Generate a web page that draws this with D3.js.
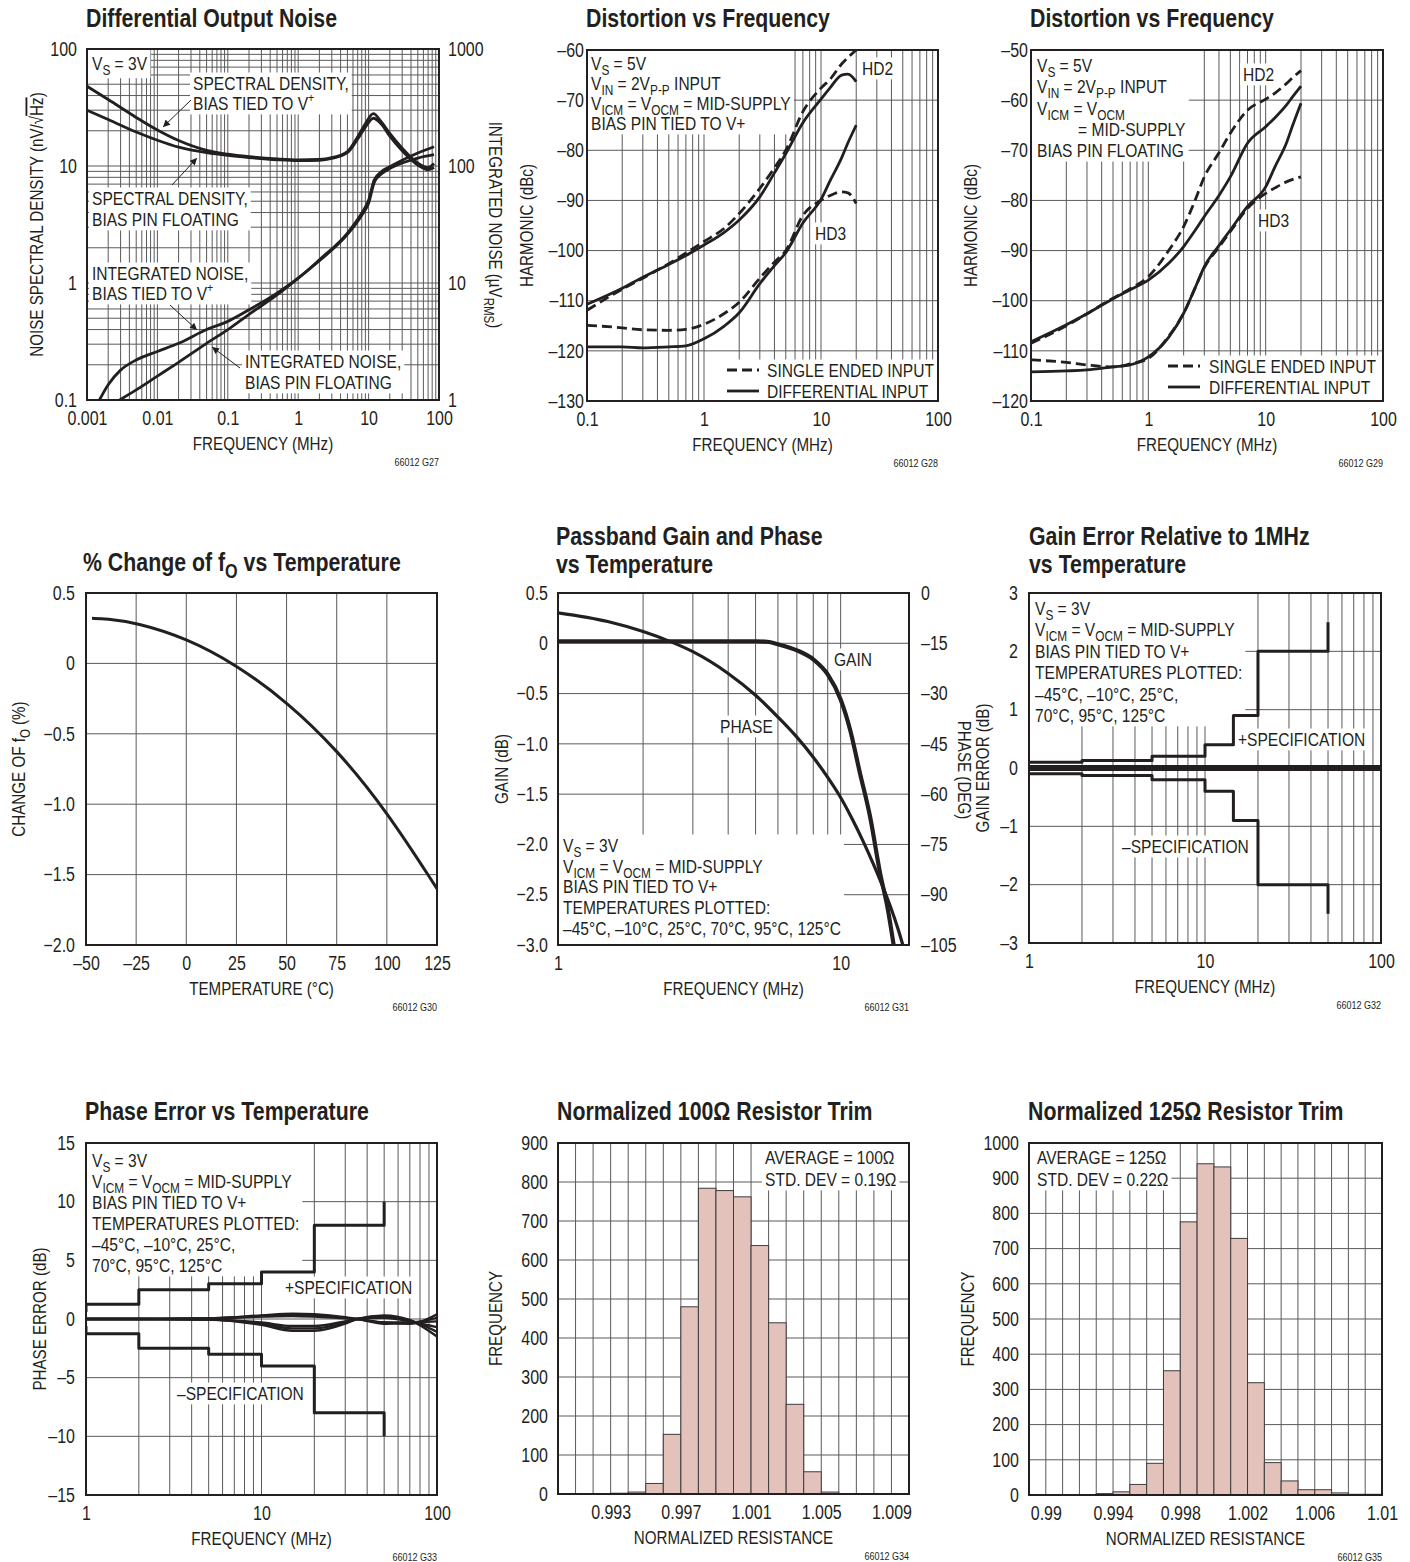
<!DOCTYPE html>
<html>
<head>
<meta charset="utf-8">
<script src="https://cdn.jsdelivr.net/npm/d3@7"></script>
<style>
  body { margin: 0; background: #fff; }
</style>
</head>
<body>
<svg id="chart" width="1410" height="1562"></svg>
<script>
// ---------------- data ----------------

// G27 differential output noise
const sdFreq   = [0.001,0.002,0.005,0.01,0.02,0.05,0.1,0.2,0.5,1,2,3,5,7,9,11.7,15,20,30,50,70,85];
const sdTied   = [48,37,26,20.3,16.5,13.6,12.6,12,11.5,11.3,11.4,11.8,13.3,17.8,23,28,24,19,14.2,10.6,9.7,10.5];
const sdFloat  = [30,25,19.5,16.6,14.5,13,12.3,11.8,11.3,11.1,11.2,11.6,13,17,21.5,25.6,23,18,13.5,10.2,9.3,9.7];
const intTiedFreq  = [0.0015,0.002,0.003,0.005,0.01,0.02,0.05,0.1,0.2,0.5,1,2,5,8,10,12,15,20,30,50,85];
const intTied      = [1,1.35,1.8,2.2,2.6,3.05,4,4.7,5.9,8.2,11,15.8,26.7,39.7,51,76,89,98.5,112,129,146];
const intFloatFreq = [0.0029,0.005,0.01,0.02,0.05,0.1,0.2,0.5,1,2,5,8,10,12,15,20,30,50,85];
const intFloat     = [1,1.22,1.6,2.1,3.05,4,5.4,7.9,11,15.5,26,38,48,72,85,95,106,117,125];

// G28 distortion, bias pin tied to V+
const distFreq28  = [0.1,0.2,0.3,0.5,0.7,1,1.5,2,3,4,5,7,10,12,15,17,20];
const hd2Single28 = [-111.9,-107.7,-105.5,-102.6,-100.5,-98.2,-95.5,-92.6,-87.6,-83.5,-80,-72.3,-67.6,-65.8,-62.8,-61.5,-60];
const hd2Diff28   = [-110.7,-107.5,-105.3,-102.8,-101,-98.9,-96.3,-93.9,-89.3,-84.5,-80.7,-74.5,-69.8,-67.5,-65,-64.8,-66.3];
const hd3Single28 = [-114.9,-115.4,-115.8,-115.9,-115.7,-114.7,-112.5,-110.3,-105.5,-102.3,-100,-93,-90,-89,-88.3,-88.5,-90.6];
const hd3Diff28   = [-119.2,-119.2,-119.4,-119.2,-119,-117.6,-115,-112.4,-106.6,-103,-100.4,-94.5,-89.8,-86,-81.5,-78.5,-75];

// G29 distortion, bias pin floating
const distFreq29  = [0.1,0.2,0.3,0.5,0.7,1,1.5,2,2.5,3,4,5,7,10,12,15,17,20];
const hd2Single29 = [-108.5,-105,-102.6,-99.5,-97.6,-95.2,-89.9,-85.2,-80,-75.3,-70.5,-66.6,-62,-59.8,-58.6,-56.7,-55.5,-54.1];
const hd2Diff29   = [-108.2,-104.8,-102.6,-99.6,-97.8,-95.9,-92.5,-89.2,-86,-83.2,-79,-75.3,-68.6,-65.3,-63.5,-61,-59.3,-57.2];
const hd3Single29 = [-111.8,-112.3,-112.8,-113.2,-112.6,-111.5,-107,-102.5,-97.5,-93.4,-89.3,-86.2,-81.6,-78.6,-77.5,-76.3,-75.8,-75.3];
const hd3Diff29   = [-114.2,-114,-113.8,-113.2,-112.8,-111.2,-107.2,-102.5,-97.5,-93.2,-89,-85.9,-81.2,-77.3,-73.3,-68.6,-65,-60.6];

// G30 % change of f0
const tempC    = [-47,-40,-25,0,25,50,75,100,125];
const f0Change = [0.32,0.318,0.29,0.18,-0.01,-0.27,-0.61,-1.05,-1.6];

// G31 passband gain and phase
const gainFreq  = [1,2,3,4,5,5.5,6,7,8,9,10,10.8,11.7,12.7,13.8,14.7,15.4];
const gainDb    = [0.02,0.02,0.02,0.02,0.02,0.015,-0.01,-0.07,-0.16,-0.31,-0.56,-0.86,-1.29,-1.72,-2.29,-2.65,-3.0];
const phaseFreq = [1,1.5,2,2.5,3,4,5,6,7,8,9,10,11,12,13,14,15,16,16.6];
const phaseDeg  = [-5.9,-8.5,-11.5,-14.5,-17.5,-24,-30.5,-37,-43,-49,-55,-61,-67.5,-74,-80.5,-87,-93.5,-100.5,-105];

// G32 gain error relative to 1MHz
const gainSpecFreq = [1,2,5,10,14.5,20,50];
const gainSpecHi   = [0.1,0.13,0.2,0.4,0.9,2,2.5];
const gainSpecLo   = [-0.1,-0.13,-0.2,-0.4,-0.9,-2,-2.5];
const gainErrFreq  = [1,100];
const gainErrTemps = [[0.03,0.03],[0.015,0.015],[0,0],[-0.015,-0.015],[-0.03,-0.03],[0.005,0.005]];

// G33 phase error
const phaseSpecFreq = [1,1,2,5,10,20,50];
const phaseSpecHi   = [0.6,1.25,2.5,3,4,8,10];
const phaseSpecLo   = [-0.6,-1.25,-2.5,-3,-4,-8,-10];
const phaseErrFreq  = [1,2,5,10,15,20,30,35,50,70,100];
const phaseErrTemps = [
  [0,0,-0.05,-0.5,-1.0,-1.0,-0.4,0,0.3,-0.1,-1.5],
  [0,0,-0.05,-0.4,-0.8,-0.8,-0.3,0,0.2,-0.1,-1.1],
  [0,0,-0.05,-0.3,-0.6,-0.6,-0.2,0,0.1,-0.2,-0.7],
  [0,0,0.05,0.3,0.45,0.4,0.15,0,-0.3,-0.4,0.4],
  [0,0,0.05,0.25,0.35,0.3,0.1,0,-0.3,-0.3,0.1],
  [0,0,0.05,0.2,0.25,0.2,0.05,0,-0.4,-0.3,-0.2]
];

// G34 / G35 histograms (lower bin edge, count per 0.001 bin)
const bins100   = [0.990,0.991,0.992,0.993,0.994,0.995,0.996,0.997,0.998,0.999,1.000,1.001,1.002,1.003,1.004,1.005,1.006,1.007,1.008,1.009];
const counts100 = [0,0,0,2,5,27,153,480,784,778,762,637,439,230,57,5,0,0,0,0];
const bins125   = [0.989,0.990,0.991,0.992,0.993,0.994,0.995,0.996,0.997,0.998,0.999,1.000,1.001,1.002,1.003,1.004,1.005,1.006,1.007,1.008,1.009];
const counts125 = [0,0,0,0,4,9,30,90,353,776,941,932,729,319,92,40,15,15,6,2,2];

// tick labels
const noiseFreqTicks = [0.001,0.01,0.1,1,10,100];
const distFreqTicks  = [0.1,1,10,100];
const tempTicks      = [-50,-25,0,25,50,75,100,125];
const ticks100 = [0.993,0.997,1.001,1.005,1.009];
const ticks125 = [0.99,0.994,0.998,1.002,1.006,1.01];

// ---------------- setup ----------------
const INK = "#231f20", GRID = "#5a5a5a", BAR = "#e4c2bc";

// narrow font if we have one, otherwise squeeze the regular one
const NARROW = (function () {
  const c = document.createElement("canvas").getContext("2d");
  c.font = "20px monospace";
  const a = c.measureText("ABCDEFGHIJKLMN 0123").width;
  c.font = "20px 'Liberation Sans Narrow', monospace";
  const b = c.measureText("ABCDEFGHIJKLMN 0123").width;
  return Math.abs(a - b) > 0.5;
})();
const FONT = NARROW ? "'Liberation Sans Narrow', 'Liberation Sans', sans-serif" : "'Liberation Sans', Arial, sans-serif";
const SX = NARROW ? 1 : 0.82;
const FS = 19, TS = 19.5, AS = 18.5;

let svg = d3.select("#chart");
svg.append("rect").attr("width", 1410).attr("height", 1562).attr("fill", "#fff");
svg.append("defs").append("marker")
    .attr("id", "arrow").attr("viewBox", "0 0 10 10")
    .attr("refX", 10).attr("refY", 5)
    .attr("markerWidth", 11).attr("markerHeight", 7)
    .attr("markerUnits", "userSpaceOnUse")
    .attr("orient", "auto")
    .append("path").attr("d", "M0,0 L10,5 L0,10 z").attr("fill", INK);

// text with _{sub}, ^{sup} and ~{overline}
function rich(t, str, size) {
  let shift = 0;
  str.split(/([_^~]\{[^}]*\})/).filter(s => s.length).forEach(function (p) {
    const m = p.match(/^([_^~])\{([^}]*)\}$/);
    let target = 0, fs = null, over = false, txt = p;
    if (m) {
      txt = m[2];
      if (m[1] === "_") { target = 0.26 * size; fs = 0.76 * size; }
      else if (m[1] === "^") { target = -0.42 * size; fs = 0.68 * size; }
      else over = true;
    }
    const ts = t.append("tspan").text(txt).attr("dy", target - shift);
    shift = target;
    if (fs) ts.attr("font-size", fs);
    if (over) ts.style("text-decoration", "overline");
  });
}

function label(parent, x, y, str, o) {
  o = o || {};
  let tr = "translate(" + x + "," + y + ")";
  if (o.rotate) tr += " rotate(" + o.rotate + ")";
  if (SX !== 1) tr += " scale(" + SX + ",1)";
  const size = o.size || FS;
  const t = parent.append("text").attr("transform", tr)
      .attr("font-family", FONT).attr("font-size", size)
      .attr("font-weight", o.bold ? "bold" : "normal")
      .attr("text-anchor", o.anchor || "start")
      .attr("fill", INK);
  rich(t, str, size);
  return t;
}

// text lines over a white box that hides the grid (curves stay on top of the box)
function note(p, x, y, lines, o) {
  o = o || {};
  const lh = o.lh || 21;
  const g = p.notes.append("g");
  lines.forEach(function (s, i) {
    const indent = Array.isArray(s) ? s[1] : 0;
    label(g, x + indent, y + i * lh, Array.isArray(s) ? s[0] : s, {size: o.size || FS});
  });
  const bb = g.node().getBBox();
  let x0 = bb.x - 3, y0 = bb.y, x1 = bb.x + bb.width + 3, y1 = bb.y + bb.height;
  if (o.ext) {
    if (o.ext.l != null) x0 = o.ext.l;
    if (o.ext.t != null) y0 = o.ext.t;
    if (o.ext.r != null) x1 = o.ext.r;
    if (o.ext.b != null) y1 = o.ext.b;
  }
  p.boxes.append("rect").attr("x", x0).attr("y", y0)
      .attr("width", x1 - x0).attr("height", y1 - y0).attr("fill", "#fff");
  return g;
}

function arrow(p, x1, y1, x2, y2) {
  p.notes.append("line").attr("x1", x1).attr("y1", y1).attr("x2", x2).attr("y2", y2)
      .attr("stroke", INK).attr("stroke-width", 1).attr("marker-end", "url(#arrow)");
}

function logSteps(lo, hi) {
  const out = [];
  for (let d = lo; d < hi * 0.999; d *= 10)
    for (let k = 1; k < 10; k++) {
      const v = +(k * d).toPrecision(6);
      if (v >= lo && v <= hi) out.push(v);
    }
  out.push(hi);
  return out;
}

const dash = s => String(s).replace("-", "\u2013");

// ticks through d3 axes, no tick marks, no domain line
function ticks(layer, scale, orient, at, values, fmt, pad) {
  const ax = orient === "bottom" ? d3.axisBottom(scale) : orient === "left" ? d3.axisLeft(scale) : d3.axisRight(scale);
  ax.tickValues(values).tickFormat(fmt || dash).tickSize(0)
    .tickPadding(orient === "bottom" ? pad : pad / SX);
  const g = layer.append("g")
      .attr("transform", orient === "bottom" ? "translate(0," + at + ")" : "translate(" + at + ",0)")
      .call(ax);
  g.select(".domain").remove();
  g.attr("font-family", FONT).attr("font-size", TS);
  g.selectAll("text").attr("fill", INK).attr("transform", "scale(" + SX + ",1)");
}

let clipId = 0;
function panel(box, xs, ys, xGrid, yGrid) {
  const g = svg.append("g");
  const id = "clip" + (clipId++);
  g.append("clipPath").attr("id", id).append("rect")
      .attr("x", box.l).attr("y", box.t).attr("width", box.r - box.l).attr("height", box.b - box.t);
  const gg = g.append("g").attr("stroke", GRID).attr("stroke-width", 1);
  xGrid.forEach(v => gg.append("line").attr("x1", xs(v)).attr("x2", xs(v)).attr("y1", box.t).attr("y2", box.b));
  yGrid.forEach(v => gg.append("line").attr("y1", ys(v)).attr("y2", ys(v)).attr("x1", box.l).attr("x2", box.r));
  const boxes = g.append("g");
  const plot = g.append("g").attr("clip-path", "url(#" + id + ")");
  const notes = g.append("g");
  const top = g.append("g");
  return {g: g, boxes: boxes, plot: plot, notes: notes, top: top, box: box};
}

function frame(p) {
  p.top.append("rect").attr("x", p.box.l).attr("y", p.box.t)
      .attr("width", p.box.r - p.box.l).attr("height", p.box.b - p.box.t)
      .attr("fill", "none").attr("stroke", INK).attr("stroke-width", 2);
}

function titles(p, title, xTitle, yTitle, yX, code) {
  const b = p.box;
  title.lines.forEach((s, i) => label(svg, title.x, title.y + i * 28, s, {size: 26, bold: true}));
  label(svg, (b.l + b.r) / 2, b.b + 50, xTitle, {anchor: "middle", size: AS});
  label(svg, yX, (b.t + b.b) / 2, yTitle, {anchor: "middle", rotate: -90, size: AS});
  label(svg, b.r, b.b + 66, code, {size: 11, anchor: "end"});
}

function curve(layer, xs, ys, xv, yv, o) {
  o = o || {};
  const ln = d3.line().x(d => xs(d[0])).y(d => ys(d[1])).curve(o.curve || d3.curveMonotoneX);
  layer.append("path").datum(d3.zip(xv, yv)).attr("d", ln)
      .attr("fill", "none").attr("stroke", INK)
      .attr("stroke-width", o.w || 2.8)
      .attr("stroke-dasharray", o.dash || null)
      .attr("stroke-linejoin", "round");
}

// ---------------- G27 Differential Output Noise ----------------
{
  const b = {l: 87, t: 49, r: 439, b: 400};
  const x = d3.scaleLog().domain([0.001, 100]).range([b.l, b.r]);
  const y = d3.scaleLog().domain([0.1, 100]).range([b.b, b.t]);
  const yr = d3.scaleLog().domain([1, 1000]).range([b.b, b.t]);
  const p = panel(b, x, y, logSteps(0.001, 100), logSteps(0.1, 100));
  curve(p.plot, x, y, sdFreq, sdTied);
  curve(p.plot, x, y, sdFreq, sdFloat);
  curve(p.plot, x, yr, intTiedFreq, intTied);
  curve(p.plot, x, yr, intFloatFreq, intFloat);

  note(p, 92, 70, ["V_{S} = 3V"], {ext: {l: b.l, t: b.t}});
  note(p, 193, 90, ["SPECTRAL DENSITY,", "BIAS TIED TO V^{+}"], {lh: 20});
  note(p, 92, 205, ["SPECTRAL DENSITY,", "BIAS PIN FLOATING"], {lh: 21});
  note(p, 92, 280, ["INTEGRATED NOISE,", "BIAS TIED TO V^{+}"], {lh: 20});
  note(p, 245, 368, ["INTEGRATED NOISE,", "BIAS PIN FLOATING"], {lh: 21});
  arrow(p, 191, 100, 163, 127);
  arrow(p, 172, 185, 197, 158);
  arrow(p, 170, 305, 197, 330);
  arrow(p, 240, 368, 212, 347);
  frame(p);

  ticks(svg, x, "bottom", b.b, noiseFreqTicks, String, 11);
  ticks(svg, y, "left", b.l, [0.1, 1, 10, 100], String, 10);
  ticks(svg, yr, "right", b.r, [1, 10, 100, 1000], String, 9);
  titles(p, {x: 86, y: 27, lines: ["Differential Output Noise"]}, "FREQUENCY (MHz)",
      "NOISE SPECTRAL DENSITY (nV/√~{Hz})", 43, "66012 G27");
  label(svg, 489, 225, "INTEGRATED NOISE (µV_{RMS})", {anchor: "middle", rotate: 90, size: AS});
}

// ---------------- G28 / G29 Distortion vs Frequency ----------------
function distPanel(b, yDom, freq, s2, d2, s3, d3v, yX, code) {
  const x = d3.scaleLog().domain([0.1, 100]).range([b.l, b.r]);
  const y = d3.scaleLinear().domain(yDom).range([b.b, b.t]);
  const p = panel(b, x, y, logSteps(0.1, 100), d3.range(yDom[0], yDom[1] + 1, 10));
  curve(p.plot, x, y, freq, s2, {dash: "10,5"});
  curve(p.plot, x, y, freq, d2);
  curve(p.plot, x, y, freq, s3, {dash: "10,5"});
  curve(p.plot, x, y, freq, d3v);
  ticks(svg, x, "bottom", b.b, distFreqTicks, String, 11);
  ticks(svg, y, "left", b.l, d3.range(yDom[0], yDom[1] + 1, 10), dash, 3);
  titles(p, {x: b.l - 1, y: 27, lines: ["Distortion vs Frequency"]}, "FREQUENCY (MHz)", "HARMONIC (dBc)", yX, code);
  return p;
}

const legendItems = ["SINGLE ENDED INPUT", "DIFFERENTIAL INPUT"];
function legend(p, sx, tx, y0, lh) {
  const g = p.notes.append("g");
  legendItems.forEach(function (s, i) {
    g.append("line").attr("x1", sx).attr("x2", sx + 32).attr("y1", y0 + i * lh - 7).attr("y2", y0 + i * lh - 7)
        .attr("stroke", INK).attr("stroke-width", 2.8).attr("stroke-dasharray", i === 0 ? "10,5" : null);
    label(g, tx, y0 + i * lh, s);
  });
  const bb = g.node().getBBox();
  p.boxes.append("rect").attr("x", bb.x - 5).attr("y", bb.y)
      .attr("width", p.box.r - bb.x + 5).attr("height", p.box.b - bb.y).attr("fill", "#fff");
}

{
  const b = {l: 587, t: 50, r: 938, b: 401};
  const p = distPanel(b, [-130, -60], distFreq28, hd2Single28, hd2Diff28, hd3Single28, hd3Diff28, 533, "66012 G28");
  note(p, 591, 70, ["V_{S} = 5V", "V_{IN} = 2V_{P-P} INPUT", "V_{ICM} = V_{OCM} = MID-SUPPLY", "BIAS PIN TIED TO V+"],
      {lh: 20, ext: {l: b.l, t: b.t}});
  note(p, 862, 75, ["HD2"]);
  note(p, 815, 240, ["HD3"]);
  legend(p, 727, 767, 377, 21);
  frame(p);
}
{
  const b = {l: 1031, t: 50, r: 1383, b: 401};
  const p = distPanel(b, [-120, -50], distFreq29, hd2Single29, hd2Diff29, hd3Single29, hd3Diff29, 977, "66012 G29");
  note(p, 1037, 72, ["V_{S} = 5V", "V_{IN} = 2V_{P-P} INPUT", "V_{ICM} = V_{OCM}", ["= MID-SUPPLY", 41], "BIAS PIN FLOATING"],
      {lh: 21.3, ext: {l: b.l, t: b.t}});
  note(p, 1243, 81, ["HD2"]);
  note(p, 1258, 227, ["HD3"]);
  legend(p, 1168, 1209, 373, 21);
  frame(p);
}

// ---------------- G30 % Change of f0 ----------------
{
  const b = {l: 86, t: 593, r: 437, b: 945};
  const x = d3.scaleLinear().domain([-50, 125]).range([b.l, b.r]);
  const y = d3.scaleLinear().domain([-2, 0.5]).range([b.b, b.t]);
  const yv = [-2, -1.5, -1, -0.5, 0, 0.5];
  const p = panel(b, x, y, tempTicks, yv);
  curve(p.plot, x, y, tempC, f0Change, {curve: d3.curveBasis, w: 3});
  frame(p);
  ticks(svg, x, "bottom", b.b, tempTicks, dash, 11);
  ticks(svg, y, "left", b.l, yv, d => d === 0 ? "0" : dash(d3.format(".1f")(d)), 11);
  titles(p, {x: 83, y: 571, lines: ["% Change of f_{O} vs Temperature"]}, "TEMPERATURE (°C)", "CHANGE OF f_{O} (%)", 25, "66012 G30");
}

// ---------------- G31 Passband Gain and Phase ----------------
{
  const b = {l: 558, t: 593, r: 909, b: 945};
  const x = d3.scaleLog().domain([1, 17.45]).range([b.l, b.r]);
  const y = d3.scaleLinear().domain([-3, 0.5]).range([b.b, b.t]);
  const yp = d3.scaleLinear().domain([-105, 0]).range([b.b, b.t]);
  const yv = [-3, -2.5, -2, -1.5, -1, -0.5, 0, 0.5];
  const p = panel(b, x, y, [2, 3, 4, 5, 6, 7, 8, 9, 10], yv);
  curve(p.plot, x, yp, phaseFreq, phaseDeg, {w: 3.2});
  curve(p.plot, x, y, gainFreq, gainDb, {w: 4.2});
  note(p, 834, 666, ["GAIN"]);
  note(p, 720, 733, ["PHASE"]);
  note(p, 563, 852, ["V_{S} = 3V", "V_{ICM} = V_{OCM} = MID-SUPPLY", "BIAS PIN TIED TO V+", "TEMPERATURES PLOTTED:",
      "\u201345°C, \u201310°C, 25°C, 70°C, 95°C, 125°C"], {lh: 20.7, ext: {l: b.l, b: b.b}});
  frame(p);
  ticks(svg, x, "bottom", b.b, [1, 10], String, 11);
  ticks(svg, y, "left", b.l, yv, d => d === 0 ? "0" : dash(d3.format(".1f")(d)), 10);
  ticks(svg, yp, "right", b.r, [-105, -90, -75, -60, -45, -30, -15, 0], dash, 12);
  titles(p, {x: 556, y: 545, lines: ["Passband Gain and Phase", "vs Temperature"]}, "FREQUENCY (MHz)", "GAIN (dB)", 508, "66012 G31");
  label(svg, 958, 770, "PHASE (DEG)", {anchor: "middle", rotate: 90, size: AS});
}

// ---------------- G32 Gain Error ----------------
{
  const b = {l: 1029, t: 593, r: 1381, b: 943};
  const x = d3.scaleLog().domain([1, 100]).range([b.l, b.r]);
  const y = d3.scaleLinear().domain([-3, 3]).range([b.b, b.t]);
  const yv = [-3, -2, -1, 0, 1, 2, 3];
  const p = panel(b, x, y, logSteps(1, 100), yv);
  curve(p.plot, x, y, gainSpecFreq, gainSpecHi, {curve: d3.curveStepAfter, w: 3});
  curve(p.plot, x, y, gainSpecFreq, gainSpecLo, {curve: d3.curveStepAfter, w: 3});
  gainErrTemps.forEach(v => curve(p.plot, x, y, gainErrFreq, v, {w: 2.6, curve: d3.curveLinear}));
  note(p, 1035, 615, ["V_{S} = 3V", "V_{ICM} = V_{OCM} = MID-SUPPLY", "BIAS PIN TIED TO V+", "TEMPERATURES PLOTTED:",
      "\u201345°C, \u201310°C, 25°C,", "70°C, 95°C, 125°C"], {lh: 21.4, ext: {l: b.l, t: b.t}});
  note(p, 1238, 746, ["+SPECIFICATION"]);
  note(p, 1122, 853, ["\u2013SPECIFICATION"]);
  frame(p);
  ticks(svg, x, "bottom", b.b, [1, 10, 100], String, 11);
  ticks(svg, y, "left", b.l, yv, dash, 11);
  titles(p, {x: 1029, y: 545, lines: ["Gain Error Relative to 1MHz", "vs Temperature"]}, "FREQUENCY (MHz)", "GAIN ERROR (dB)", 989, "66012 G32");
}

// ---------------- G33 Phase Error ----------------
{
  const b = {l: 86, t: 1143, r: 437, b: 1495};
  const x = d3.scaleLog().domain([1, 100]).range([b.l, b.r]);
  const y = d3.scaleLinear().domain([-15, 15]).range([b.b, b.t]);
  const yv = [-15, -10, -5, 0, 5, 10, 15];
  const p = panel(b, x, y, logSteps(1, 100), yv);
  curve(p.plot, x, y, phaseSpecFreq, phaseSpecHi, {curve: d3.curveStepAfter, w: 3});
  curve(p.plot, x, y, phaseSpecFreq, phaseSpecLo, {curve: d3.curveStepAfter, w: 3});
  phaseErrTemps.forEach(v => curve(p.plot, x, y, phaseErrFreq, v, {w: 2.4}));
  note(p, 92, 1167, ["V_{S} = 3V", "V_{ICM} = V_{OCM} = MID-SUPPLY", "BIAS PIN TIED TO V+", "TEMPERATURES PLOTTED:",
      "\u201345°C, \u201310°C, 25°C,", "70°C, 95°C, 125°C"], {lh: 21, ext: {l: b.l, t: b.t}});
  note(p, 285, 1294, ["+SPECIFICATION"]);
  note(p, 177, 1400, ["\u2013SPECIFICATION"]);
  frame(p);
  ticks(svg, x, "bottom", b.b, [1, 10, 100], String, 11);
  ticks(svg, y, "left", b.l, yv, dash, 11);
  titles(p, {x: 85, y: 1120, lines: ["Phase Error vs Temperature"]}, "FREQUENCY (MHz)", "PHASE ERROR (dB)", 46, "66012 G33");
}

// ---------------- G34 / G35 histograms ----------------
function histPanel(b, xDom, yMax, bins, counts, tickVals, fmt, title, yX, code) {
  const x = d3.scaleLinear().domain(xDom).range([b.l, b.r]);
  const y = d3.scaleLinear().domain([0, yMax]).range([b.b, b.t]);
  const edges = bins.concat([+(bins[bins.length - 1] + 0.001).toFixed(3)]);
  const yv = d3.range(0, yMax + 1, 100);
  const p = panel(b, x, y, edges, yv);
  p.plot.selectAll("rect.bar").data(d3.zip(bins, counts)).enter().append("rect")
      .attr("class", "bar")
      .attr("x", d => x(d[0]))
      .attr("width", d => x(d[0] + 0.001) - x(d[0]))
      .attr("y", d => y(d[1]))
      .attr("height", d => b.b - y(d[1]))
      .attr("fill", BAR).attr("stroke", "#3c3c3c").attr("stroke-width", 1);
  ticks(svg, x, "bottom", b.b, tickVals, fmt, 11);
  ticks(svg, y, "left", b.l, yv, String, 10);
  titles(p, {x: b.l - 1, y: 1120, lines: [title]}, "NORMALIZED RESISTANCE", "FREQUENCY", yX, code);
  return p;
}
{
  const b = {l: 558, t: 1143, r: 909, b: 1494};
  const p = histPanel(b, [0.990, 1.010], 900, bins100, counts100, ticks100, d3.format(".3f"),
      "Normalized 100Ω Resistor Trim", 502, "66012 G34");
  note(p, 765, 1164, ["AVERAGE = 100Ω", "STD. DEV = 0.19Ω"], {lh: 22, ext: {t: b.t}});
  frame(p);
}
{
  const b = {l: 1029, t: 1143, r: 1382, b: 1495};
  const p = histPanel(b, [0.989, 1.010], 1000, bins125, counts125, ticks125, d => String(+d.toFixed(3)),
      "Normalized 125Ω Resistor Trim", 974, "66012 G35");
  note(p, 1037, 1164, ["AVERAGE = 125Ω", "STD. DEV = 0.22Ω"], {lh: 22, ext: {l: b.l, t: b.t}});
  frame(p);
}
</script>
</body>
</html>
